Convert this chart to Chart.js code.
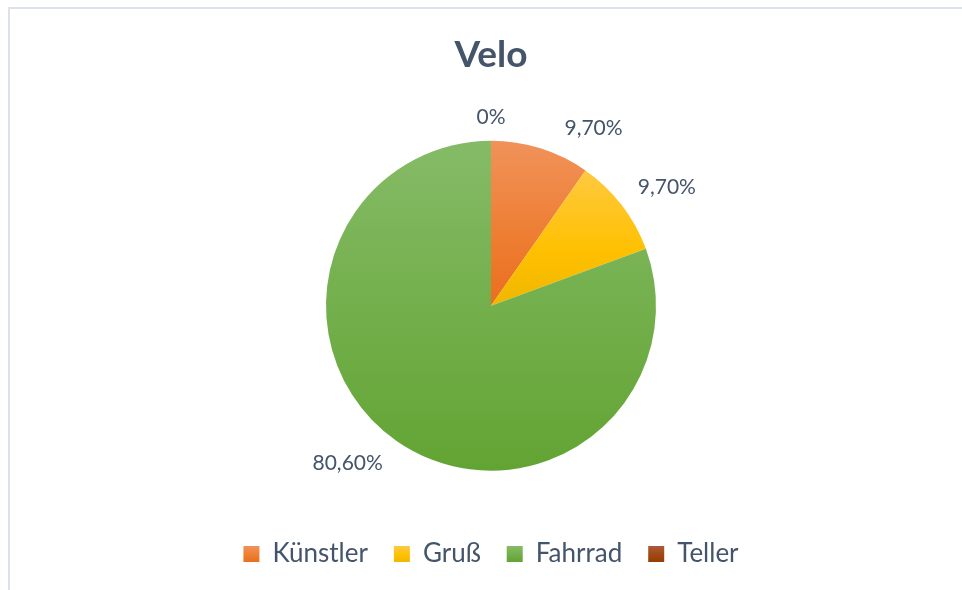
<!DOCTYPE html>
<html>
<head>
<meta charset="utf-8">
<script src="https://cdn.jsdelivr.net/npm/chart.js@4"></script>
<style>
    html, body { margin: 0; padding: 0; background: #fff; }
    #wrap { position: relative; width: 962px; height: 590px; overflow: hidden; }
    #frame {
        position: absolute; left: 8px; top: 7px; width: 970px; height: 600px;
        border-top: 2px solid #dde2e8; border-left: 2px solid #dde2e8;
    }
    canvas { position: absolute; left: 0; top: 0; }
</style>
</head>
<body>
<div id="wrap">
    <div id="frame"></div>
    <canvas id="veloChart" width="962" height="590"></canvas>
</div>
<script>
// Daten
const categories = ['Künstler', 'Gruß', 'Fahrrad', 'Teller'];
const shares = [9.7, 9.7, 80.6, 0];

// Farben (oben hell -> unten dunkel)
const baseColors = ['#ED7D31', '#FFC000', '#70AD47', '#9E480E'];
const topColors = ['#F1925A', '#FFC940', '#85BB67', '#AB5A3A'];
const bottomColors = ['#EB6E1F', '#EFB700', '#62A433', '#973C06'];
const labelShiftDeg = [12.5, 3.6, 7.3, 0];

const textColor = '#44546A';
const fontFamily = 'Lato, "Noto Sans", sans-serif';

function formatPct(v) {
    if (v === 0) return '0%';
    return v.toFixed(2).replace('.', ',') + '%';
}

function makeGradient(ctx, y0, y1, i) {
    const g = ctx.createLinearGradient(0, y0, 0, y1);
    g.addColorStop(0, topColors[i]);
    g.addColorStop(0.6, baseColors[i]);
    g.addColorStop(1, bottomColors[i]);
    return g;
}

// Verlauf je Segment über seine eigene Höhe
function sliceFill(context) {
    const chart = context.chart;
    const i = context.dataIndex;
    const area = chart.chartArea;
    if (!area) return baseColors[i];
    const meta = chart.getDatasetMeta(0);
    const r = meta.controller.outerRadius || 165;
    const cy = (area.top + area.bottom) / 2;
    const total = shares.reduce((a, b) => a + b, 0);
    let cum = 0;
    for (let k = 0; k < i; k++) cum += shares[k];
    const a0 = -Math.PI / 2 + 2 * Math.PI * cum / total;
    const a1 = a0 + 2 * Math.PI * shares[i] / total;
    let ys = [cy, cy + Math.sin(a0) * r, cy + Math.sin(a1) * r];
    const has = (ang) => {
        for (let t = ang - 4 * Math.PI; t <= a1; t += 2 * Math.PI) {
            if (t >= a0 && t <= a1) return true;
        }
        return false;
    };
    if (has(-Math.PI / 2)) ys.push(cy - r);
    if (has(Math.PI / 2)) ys.push(cy + r);
    const y0 = Math.min(...ys), y1 = Math.max(...ys);
    if (y1 - y0 < 1) return baseColors[i];
    return makeGradient(chart.ctx, y0, y1, i);
}

// Prozentbeschriftung außerhalb der Segmente
const outsideLabels = {
    id: 'outsideLabels',
    afterDatasetsDraw(chart) {
        const ctx = chart.ctx;
        const meta = chart.getDatasetMeta(0);
        ctx.save();
        ctx.font = '21px ' + fontFamily;
        ctx.fillStyle = textColor;
        ctx.textAlign = 'center';
        ctx.textBaseline = 'middle';
        meta.data.forEach((arc, i) => {
            const p = arc.getProps(['x', 'y', 'startAngle', 'endAngle', 'outerRadius'], true);
            const a = (p.startAngle + p.endAngle) / 2 + labelShiftDeg[i] * Math.PI / 180;
            const ux = Math.cos(a), uy = Math.sin(a);
            const txt = formatPct(shares[i]);
            const hw = ctx.measureText(txt).width / 2;
            const hh = 9;
            const gap = shares[i] === 0 ? 14 : 18;
            const d = p.outerRadius + gap + Math.abs(ux) * hw + Math.abs(uy) * hh;
            ctx.fillText(txt, p.x + ux * d, p.y + uy * d);
        });
        ctx.restore();
    }
};

// Legendenkästchen ebenfalls mit Verlauf
const legendGradients = {
    id: 'legendGradients',
    beforeDraw(chart) {
        const lg = chart.legend;
        if (!lg || !lg.legendHitBoxes) return;
        lg.legendItems.forEach((item, i) => {
            const hb = lg.legendHitBoxes[i];
            if (!hb) return;
            const midY = hb.top + hb.height / 2;
            item.fillStyle = makeGradient(chart.ctx, midY - 8, midY + 8, i);
        });
    }
};

new Chart(document.getElementById('veloChart'), {
    type: 'pie',
    data: {
        labels: categories,
        datasets: [{
            data: shares,
            backgroundColor: sliceFill,
            borderWidth: 0,
            radius: 165
        }]
    },
    options: {
        responsive: false,
        animation: false,
        layout: { padding: { left: 20, right: 0, top: 0, bottom: 13 } },
        plugins: {
            title: {
                display: true,
                text: 'Velo',
                color: textColor,
                font: { family: fontFamily, size: 37, weight: 'bold' },
                padding: { top: 33, bottom: 19 }
            },
            legend: {
                position: 'bottom',
                labels: {
                    color: textColor,
                    font: { family: fontFamily, size: 26 },
                    boxWidth: 16,
                    boxHeight: 16,
                    padding: 26
                }
            },
            tooltip: { enabled: false }
        }
    },
    plugins: [outsideLabels, legendGradients]
});
</script>
</body>
</html>
